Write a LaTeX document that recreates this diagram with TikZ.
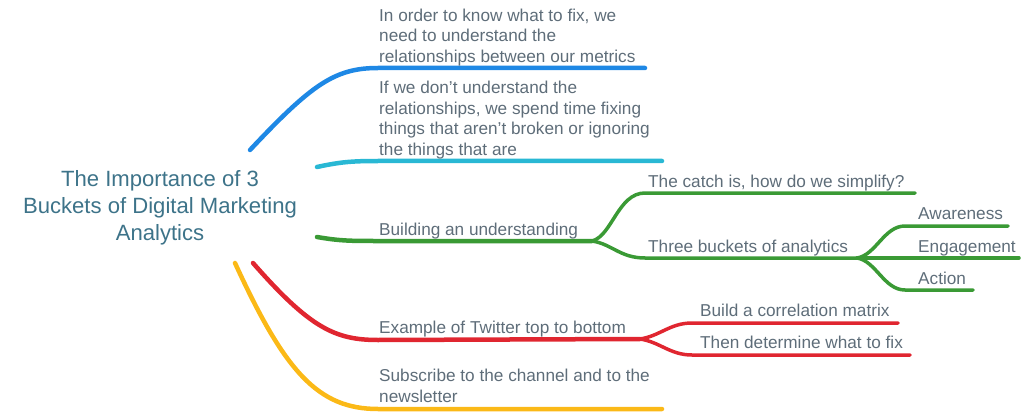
\documentclass[tikz,border=0pt]{standalone}
\usepackage{fontspec}
\setmainfont{Liberation Sans}
\definecolor{cblue}{HTML}{1E88E5}
\definecolor{ccyan}{HTML}{29B8D4}
\definecolor{cgreen}{HTML}{3A9A35}
\definecolor{cred}{HTML}{E02630}
\definecolor{cyellow}{HTML}{FBB917}
\definecolor{txt}{HTML}{5E6D79}
\definecolor{ttl}{HTML}{3D7389}
\begin{document}
\begin{tikzpicture}[x=1pt,y=-1pt,
  lab/.style={anchor=south west,inner sep=0pt,align=left,
    font=\fontsize{17.2}{20.7}\selectfont,text=txt,execute at end node=\strut},
  mainbr/.style={line width=4.5pt,line cap=round},
  subbr/.style={line width=3.5pt,line cap=round}]
\useasboundingbox (0,0) rectangle (1024,414);

% title
\node[font=\fontsize{22.1}{27}\selectfont,text=ttl,align=center,anchor=south,inner sep=0pt]
  (root) at (160,249) {The Importance of 3\\Buckets of Digital Marketing\\Analytics\strut};

% branch start / end coordinates
\coordinate (bS) at (250,150);  \coordinate (bH) at (378,68);  \coordinate (bE) at (645,68);
\coordinate (cS) at (317,167);  \coordinate (cH) at (378,161); \coordinate (cE) at (662,161);
\coordinate (gS) at (317,237);  \coordinate (gH) at (378,241); \coordinate (gF) at (592,241);
\coordinate (rS) at (253,263);  \coordinate (rH) at (378,340); \coordinate (rF) at (640,339);
\coordinate (yS) at (235,263);  \coordinate (yH) at (378,409); \coordinate (yE) at (662,409);
\coordinate (g1H) at (645,193); \coordinate (g1E) at (915,193);
\coordinate (g2H) at (645,258); \coordinate (g2F) at (857,258);
\coordinate (a1H) at (905,226); \coordinate (a1E) at (1008,226);
\coordinate (a2E) at (1019,258);
\coordinate (a3H) at (905,290); \coordinate (a3E) at (973,290);
\coordinate (r1H) at (692,323); \coordinate (r1E) at (898,323);
\coordinate (r2H) at (692,355); \coordinate (r2E) at (910,355);

% main branches
\draw[mainbr,cblue] (bS) .. controls (312,84) and (335,68) .. (bH) -- (bE);
\draw[mainbr,ccyan] (cS) .. controls (340,162) and (352,161) .. (cH) -- (cE);
\draw[mainbr,cgreen] (gS) .. controls (340,241) and (352,241) .. (gH) -- (gF);
\draw[mainbr,cred] (rS) .. controls (310,328) and (335,340) .. (rH) -- (rF);
\draw[mainbr,cyellow] (yS) .. controls (285,372) and (318,409) .. (yH) -- (yE);

% green sub-branches
\draw[subbr,cgreen] (gF) .. controls (612,236) and (618,193) .. (g1H) -- (g1E);
\draw[subbr,cgreen] (gF) .. controls (612,244) and (620,258) .. (g2H) -- (g2F);
\draw[subbr,cgreen] (g2F) .. controls (876,255) and (884,226) .. (a1H) -- (a1E);
\draw[subbr,cgreen] (g2F) -- (a2E);
\draw[subbr,cgreen] (g2F) .. controls (876,261) and (884,290) .. (a3H) -- (a3E);

% red sub-branches
\draw[subbr,cred] (rF) .. controls (660,336) and (670,323) .. (r1H) -- (r1E);
\draw[subbr,cred] (rF) .. controls (660,342) and (670,355) .. (r2H) -- (r2E);

% labels
\node[lab] (t1) at (379,69) {In order to know what to fix, we\\need to understand the\\relationships between our metrics};
\node[lab] (t2) at (379,162) {If we don’t understand the\\relationships, we spend time fixing\\things that aren’t broken or ignoring\\the things that are};
\node[lab] (t3) at (379,242) {Building an understanding};
\node[lab] (t4) at (379,340) {Example of Twitter top to bottom};
\node[lab] (t5) at (379,409) {Subscribe to the channel and to the\\newsletter};
\node[lab] (t31) at (648,194) {The catch is, how do we simplify?};
\node[lab] (t32) at (648,259) {Three buckets of analytics};
\node[lab] (t321) at (918,226) {Awareness};
\node[lab] (t322) at (918,259) {Engagement};
\node[lab] (t323) at (918,291) {Action};
\node[lab] (t41) at (700,323) {Build a correlation matrix};
\node[lab] (t42) at (700,355) {Then determine what to fix};
\end{tikzpicture}
\end{document}
